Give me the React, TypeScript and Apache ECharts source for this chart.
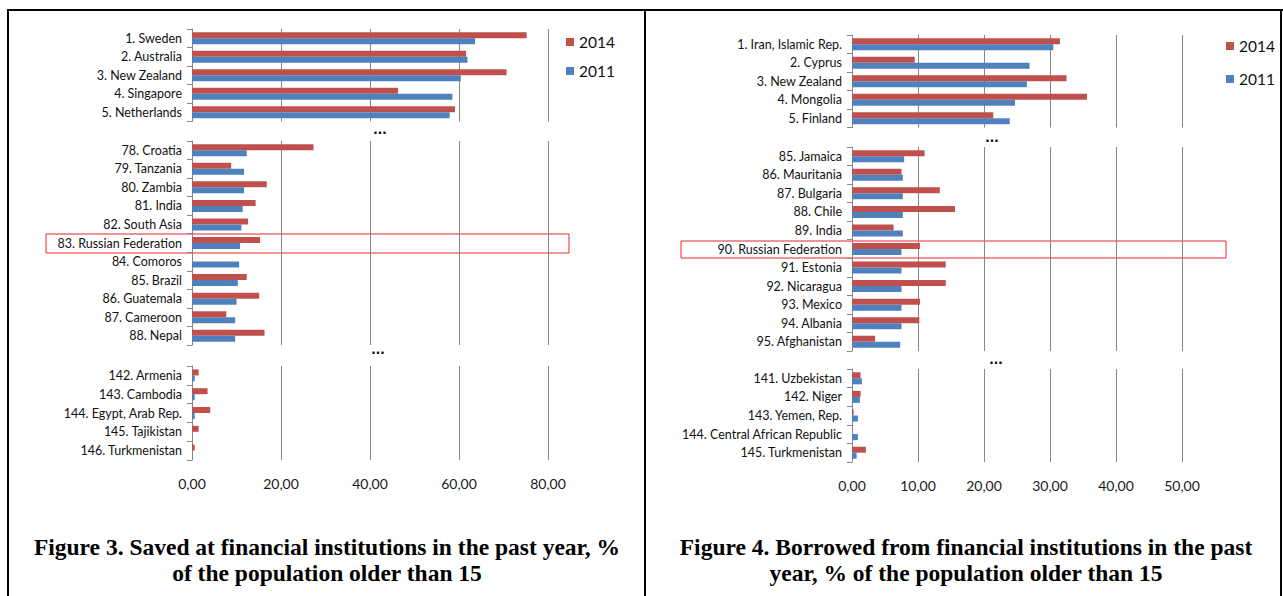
import React, { useEffect, useRef } from "react";
import * as echarts from "echarts";

// ---- Figure 3: Saved at financial institutions (%) ----
const leftTopCats = ["1. Sweden", "2. Australia", "3. New Zealand", "4. Singapore", "5. Netherlands"];
const leftTop2014 = [75.2, 61.6, 70.7, 46.3, 59.1];
const leftTop2011 = [63.6, 61.9, 60.4, 58.5, 57.9];

const leftMidCats = [
  "78. Croatia", "79. Tanzania", "80. Zambia", "81. India", "82. South Asia",
  "83. Russian Federation", "84. Comoros", "85. Brazil", "86. Guatemala", "87. Cameroon", "88. Nepal",
];
const leftMid2014 = [27.3, 8.8, 16.8, 14.3, 12.6, 15.3, 0, 12.3, 15.1, 7.7, 16.3];
const leftMid2011 = [12.3, 11.7, 11.7, 11.4, 11.1, 10.8, 10.6, 10.3, 10.0, 9.7, 9.7];

const leftBotCats = ["142. Armenia", "143. Cambodia", "144. Egypt, Arab Rep.", "145. Tajikistan", "146. Turkmenistan"];
const leftBot2014 = [1.5, 3.5, 4.1, 1.5, 0.6];
const leftBot2011 = [0.6, 0.6, 0.6, 0, 0];

// ---- Figure 4: Borrowed from financial institutions (%) ----
const rightTopCats = ["1. Iran, Islamic Rep.", "2. Cyprus", "3. New Zealand", "4. Mongolia", "5. Finland"];
const rightTop2014 = [31.5, 9.5, 32.5, 35.6, 21.4];
const rightTop2011 = [30.5, 26.9, 26.5, 24.7, 23.9];

const rightMidCats = [
  "85. Jamaica", "86. Mauritania", "87. Bulgaria", "88. Chile", "89. India",
  "90. Russian Federation", "91. Estonia", "92. Nicaragua", "93. Mexico", "94. Albania", "95. Afghanistan",
];
const rightMid2014 = [11.0, 7.5, 13.3, 15.6, 6.3, 10.3, 14.2, 14.2, 10.3, 10.2, 3.5];
const rightMid2011 = [7.9, 7.7, 7.7, 7.7, 7.7, 7.5, 7.5, 7.5, 7.5, 7.5, 7.3];

const rightBotCats = ["141. Uzbekistan", "142. Niger", "143. Yemen, Rep.", "144. Central African Republic", "145. Turkmenistan"];
const rightBot2014 = [1.3, 1.3, 0.25, 0, 2.1];
const rightBot2011 = [1.5, 1.2, 0.9, 0.9, 0.7];

const seriesNames = ["2014", "2011"];
const leftTicks = [0, 20, 40, 60, 80];
const rightTicks = [0, 10, 20, 30, 40, 50];

const captionLeft = ["Figure 3. Saved at financial institutions in the past year, %", "of the population older than 15"];
const captionRight = ["Figure 4. Borrowed from financial institutions in the past", "year, % of the population older than 15"];

const RED = "#C0504D";
const BLUE = "#4F81BD";
const GRID = "#868686";
const FONT = "Lato";

export default function App() {
  const ref = useRef<HTMLDivElement>(null);

  useEffect(() => {
    if (!ref.current) return;
    const chart = echarts.init(ref.current, undefined, { renderer: "svg" });

    const panels = [
      { cats: leftTopCats, a: leftTop2014, b: leftTop2011, left: 192, width: 356, top: 29, height: 92.5, ticks: leftTicks, bottom: false },
      { cats: leftMidCats, a: leftMid2014, b: leftMid2011, left: 192, width: 356, top: 141, height: 204, ticks: leftTicks, bottom: false },
      { cats: leftBotCats, a: leftBot2014, b: leftBot2011, left: 192, width: 356, top: 366, height: 94, ticks: leftTicks, bottom: true },
      { cats: rightTopCats, a: rightTop2014, b: rightTop2011, left: 852, width: 330, top: 35, height: 92.5, ticks: rightTicks, bottom: false },
      { cats: rightMidCats, a: rightMid2014, b: rightMid2011, left: 852, width: 330, top: 147, height: 204, ticks: rightTicks, bottom: false },
      { cats: rightBotCats, a: rightBot2014, b: rightBot2011, left: 852, width: 330, top: 369, height: 93, ticks: rightTicks, bottom: true },
    ];

    const grid = panels.map((p) => ({ left: p.left, top: p.top, width: p.width, height: p.height, containLabel: false }));
    const xAxis = panels.map((p, i) => ({
      type: "value",
      gridIndex: i,
      min: p.ticks[0],
      max: p.ticks[p.ticks.length - 1],
      interval: p.ticks[1] - p.ticks[0],
      axisLine: { show: false },
      axisTick: { show: false },
      splitLine: { show: true, lineStyle: { color: GRID, width: 1 } },
      axisLabel: {
        show: p.bottom,
        margin: 16,
        fontFamily: FONT,
        fontSize: 14,
        color: "#1a1a1a",
        formatter: (v: number) => v.toFixed(2).replace(".", ","),
      },
    }));
    const yAxis = panels.map((p, i) => ({
      type: "category",
      gridIndex: i,
      inverse: true,
      data: p.cats,
      axisLine: { show: true, lineStyle: { color: GRID, width: 1 } },
      axisTick: { show: true, length: 5, lineStyle: { color: GRID } },
      axisLabel: { margin: 10, fontFamily: FONT, fontSize: 12.5, color: "#111" },
    }));
    const series: any[] = [];
    panels.forEach((p, i) => {
      series.push({
        type: "bar", name: seriesNames[0], xAxisIndex: i, yAxisIndex: i, data: p.a,
        barWidth: 6, barGap: "0%", itemStyle: { color: RED },
      });
      series.push({
        type: "bar", name: seriesNames[1], xAxisIndex: i, yAxisIndex: i, data: p.b,
        barWidth: 6, barGap: "0%", itemStyle: { color: BLUE },
      });
    });

    const legendBase = {
      orient: "vertical",
      data: seriesNames,
      icon: "rect",
      itemWidth: 8,
      itemHeight: 8,
      selectedMode: false,
      textStyle: { fontFamily: FONT, fontSize: 15.5, lineHeight: 16, color: "#111" },
    };

    const box = (x1: number, y1: number, x2: number, y2: number) => ({
      type: "rect",
      shape: { x: x1, y: y1, width: x2 - x1, height: y2 - y1 },
      style: { fill: "none", stroke: "#E8262B", lineWidth: 1 },
      silent: true,
    });
    const line = (x1: number, y1: number, x2: number, y2: number) => ({
      type: "line",
      shape: { x1, y1, x2, y2 },
      style: { stroke: "#000", lineWidth: 2 },
      silent: true,
    });
    const dots = (x: number, y: number) => ({
      type: "text",
      x, y,
      style: { text: "...", font: 'bold 16px "Liberation Sans"', fill: "#111", textAlign: "center", textVerticalAlign: "bottom" },
    });
    const caption = (x: number, y: number, t: string) => ({
      type: "text",
      x, y,
      style: { text: t, font: 'bold 23.5px "Liberation Serif"', fill: "#000", textAlign: "center", textVerticalAlign: "middle" },
    });

    chart.setOption({
      animation: false,
      backgroundColor: "#fff",
      grid,
      xAxis,
      yAxis,
      series,
      legend: [
        { ...legendBase, left: 561, top: 29, itemGap: 13 },
        { ...legendBase, left: 1221, top: 33, itemGap: 17 },
      ],
      graphic: [
        line(7, 10, 1283, 10),
        line(8, 9, 8, 596),
        line(645, 9, 645, 596),
        line(1281, 9, 1281, 596),
        box(46, 234, 569, 253),
        box(681, 241, 1226, 258),
        dots(380, 136),
        dots(378, 356),
        dots(992, 144),
        dots(996, 366),
        caption(327, 547, captionLeft[0]),
        caption(327, 573, captionLeft[1]),
        caption(966, 547, captionRight[0]),
        caption(966, 573, captionRight[1]),
      ],
    });

    return () => chart.dispose();
  }, []);

  return (
    <div
      ref={ref}
      style={{ position: "fixed", left: 0, top: 0, width: 1283, height: 596, background: "#fff" }}
    />
  );
}
